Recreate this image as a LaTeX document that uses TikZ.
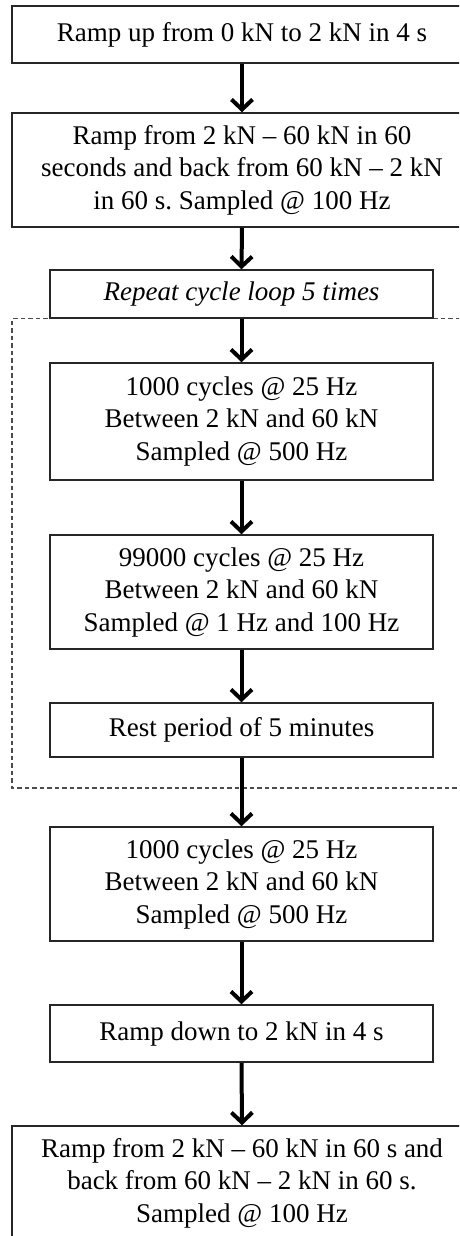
\documentclass[tikz,border=0pt]{standalone}
\usepackage{fontspec}
\setmainfont{Liberation Serif}
\usetikzlibrary{arrows.meta}
\tikzset{
  boxstyle/.style={draw=black!85, line width=1.5pt, fill=white, align=center,
    font=\fontsize{27}{32.5}\selectfont\frenchspacing, inner sep=0pt, anchor=center},
  smallbox/.style={boxstyle, minimum width=383pt},
  bigbox/.style={boxstyle, minimum width=460pt},
  flow/.style={line width=4pt, -{Straight Barb[length=10pt,width=21pt]}},
  loopline/.style={draw=black!70, line width=1.3pt, dash pattern=on 4.5pt off 3pt}
}
\begin{document}
\begin{tikzpicture}[x=1pt,y=1pt]
\useasboundingbox (0,0) rectangle (459,-1236);
\clip (0,0) rectangle (459,-1236);
\fill[white] (0,0) rectangle (459,-1236);
% loop region
\draw[loopline] (490,-318.5) -- (12,-318.5) -- (12,-788) -- (490,-788);
% boxes
\node[bigbox, minimum height=57pt] (b1) at (242,-34.5) {Ramp up from 0 kN to 2 kN in 4 s};
\node[bigbox, minimum height=114pt] (b2) at (242,-170) {Ramp from 2 kN -- 60 kN in 60\\seconds and back from 60 kN -- 2 kN\\in 60 s. Sampled @ 100 Hz};
\node[smallbox, minimum height=48pt] (b3) at (241.5,-294) {\itshape Repeat cycle loop 5 times};
\node[smallbox, minimum height=117pt] (b4) at (241.5,-421.5) {1000 cycles @ 25 Hz\\Between 2 kN and 60 kN\\Sampled @ 500 Hz};
\node[smallbox, minimum height=114pt] (b5) at (241.5,-592) {99000 cycles @ 25 Hz\\Between 2 kN and 60 kN\\Sampled @ 1 Hz and 100 Hz};
\node[smallbox, minimum height=54pt] (b6) at (241.5,-730) {Rest period of 5 minutes};
\node[smallbox, minimum height=114pt] (b7) at (241.5,-884) {1000 cycles @ 25 Hz\\Between 2 kN and 60 kN\\Sampled @ 500 Hz};
\node[smallbox, minimum height=57pt] (b8) at (241.5,-1033.5) {Ramp down to 2 kN in 4 s};
\node[bigbox, minimum height=114pt] (b9) at (242,-1183) {Ramp from 2 kN -- 60 kN in 60 s and\\back from 60 kN -- 2 kN in 60 s.\\Sampled @ 100 Hz};
% arrows
\foreach \a/\b in {b1/b2,b2/b3,b3/b4,b4/b5,b5/b6,b6/b7,b7/b8,b8/b9}
  \draw[flow] (\a.south) -- (\b.north);
\end{tikzpicture}
\end{document}
